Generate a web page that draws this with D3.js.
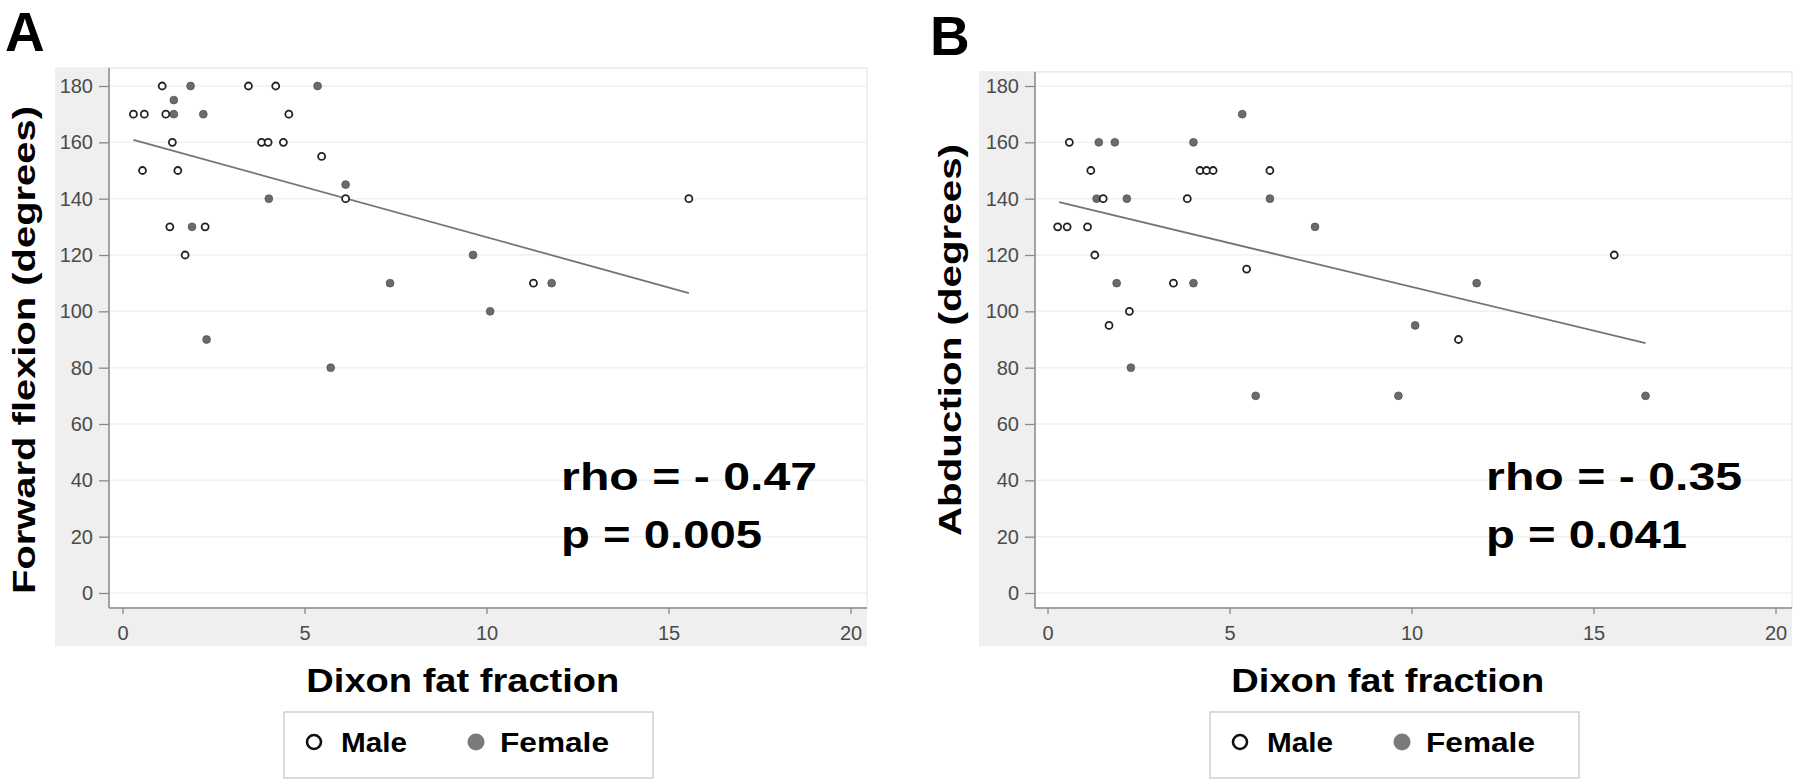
<!DOCTYPE html>
<html>
<head>
<meta charset="utf-8">
<script src="https://cdn.jsdelivr.net/npm/d3@7"></script>
<style>
  body { margin: 0; background: #fff; }
  svg text { font-family: "Liberation Sans", Arial, sans-serif; }
</style>
</head>
<body>
<div id="chart"></div>
<script>
// tick values
const xTicks = [0, 5, 10, 15, 20];
const yTicks = [0, 20, 40, 60, 80, 100, 120, 140, 160, 180];

// panel A : forward flexion vs Dixon fat fraction
const flexMale = [
  [0.30, 170], [0.60, 170], [0.55, 150], [1.09, 180], [1.19, 170], [1.37, 160],
  [1.52, 150], [1.30, 130], [2.27, 130], [1.72, 120], [3.46, 180], [4.21, 180],
  [4.57, 170], [3.82, 160], [4.00, 160], [4.42, 160], [5.47, 155], [6.13, 140],
  [11.29, 110], [15.56, 140]
];
const flexFemale = [
  [1.41, 175], [1.41, 170], [1.87, 180], [2.22, 170], [1.91, 130], [2.31, 90],
  [4.02, 140], [5.36, 180], [6.13, 145], [5.72, 80], [7.35, 110], [9.63, 120],
  [10.10, 100], [11.79, 110]
];
const flexFit = [[0.30, 160.9], [15.56, 106.5]];

// panel B : abduction vs Dixon fat fraction
const abdMale = [
  [0.28, 130], [0.54, 130], [0.60, 160], [1.10, 130], [1.19, 150], [1.30, 120],
  [1.53, 140], [1.69, 95], [2.25, 100], [3.46, 110], [3.84, 140], [4.19, 150],
  [4.37, 150], [4.55, 150], [5.47, 115], [6.11, 150], [11.29, 90], [15.57, 120]
];
const abdFemale = [
  [1.35, 140], [1.41, 160], [1.85, 160], [2.18, 140], [1.90, 110], [2.29, 80],
  [4.01, 160], [4.01, 110], [5.35, 170], [6.11, 140], [7.35, 130], [5.72, 70],
  [9.64, 70], [10.10, 95], [11.79, 110], [16.43, 70]
];
const abdFit = [[0.32, 138.8], [16.43, 88.7]];

const panels = [
  { tag: "A", ytitle: "Forward flexion (degrees)", male: flexMale, female: flexFemale, fit: flexFit,
    rho: "rho = - 0.47", p: "p = 0.005",
    left: 109, top: 68, right: 867, x0: 122.5, bgLeft: 55, bgTop: 67,
    tagX: 5, tagY: 51, ytX: 35, ytY: 350, ytLen: 488, legX: 284 },
  { tag: "B", ytitle: "Abduction (degrees)", male: abdMale, female: abdFemale, fit: abdFit,
    rho: "rho = - 0.35", p: "p = 0.041",
    left: 1035, top: 72, right: 1792, x0: 1047.5, bgLeft: 979, bgTop: 71,
    tagX: 930, tagY: 55, ytX: 961, ytY: 340, ytLen: 392, legX: 1210 }
];

const W = 1800, H = 784;
const bottom = 608;

const svg = d3.select("#chart")
  .append("svg")
  .attr("width", W)
  .attr("height", H);

panels.forEach(p => {
  const g = svg.append("g");

  const x = d3.scaleLinear().domain([0, 20]).range([p.x0, p.x0 + 728]);
  const y = d3.scaleLinear().domain([0, 180]).range([593, 86]);

  // grey graph region + white plot region
  g.append("rect")
    .attr("x", p.bgLeft).attr("y", p.bgTop)
    .attr("width", p.right - p.bgLeft).attr("height", 646 - p.bgTop)
    .attr("fill", "#efefef");
  g.append("rect")
    .attr("x", p.left).attr("y", p.top)
    .attr("width", p.right - p.left).attr("height", bottom - p.top)
    .attr("fill", "#fff")
    .attr("stroke", "#ececec")
    .attr("stroke-width", 1.5);

  // grid lines
  g.selectAll(".grid")
    .data(yTicks)
    .enter()
    .append("line")
    .attr("x1", p.left).attr("x2", p.right)
    .attr("y1", d => y(d)).attr("y2", d => y(d))
    .attr("stroke", "#f1f1f1")
    .attr("stroke-width", 1.5);

  // axes
  const yAxis = g.append("g")
    .attr("transform", `translate(${p.left},0)`)
    .call(d3.axisLeft(y).tickValues(yTicks).tickSize(10).tickPadding(6));
  const xAxis = g.append("g")
    .attr("transform", `translate(0,${bottom})`)
    .call(d3.axisBottom(x).tickValues(xTicks).tickSize(6).tickPadding(12));
  [yAxis, xAxis].forEach(a => {
    a.select(".domain").remove();
    a.selectAll("line").attr("stroke", "#8a8a8a").attr("stroke-width", 1.3);
    a.selectAll("text")
      .style("font-size", "20px")
      .attr("fill", "#4a4a4a");
  });
  g.append("line")
    .attr("x1", p.left).attr("x2", p.left)
    .attr("y1", p.top).attr("y2", bottom)
    .attr("stroke", "#8a8a8a").attr("stroke-width", 1.5);
  g.append("line")
    .attr("x1", p.left).attr("x2", p.right)
    .attr("y1", bottom).attr("y2", bottom)
    .attr("stroke", "#8a8a8a").attr("stroke-width", 1.5);

  // fitted line
  g.append("path")
    .datum(p.fit)
    .attr("d", d3.line().x(d => x(d[0])).y(d => y(d[1])))
    .attr("fill", "none")
    .attr("stroke", "#747474")
    .attr("stroke-width", 1.8);

  // points : female first, male drawn on top
  g.selectAll(".female")
    .data(p.female)
    .enter()
    .append("circle")
    .attr("cx", d => x(d[0]))
    .attr("cy", d => y(d[1]))
    .attr("r", 3.9)
    .attr("fill", "#6b6b6b")
    .attr("stroke", "#555")
    .attr("stroke-width", 0.8);
  g.selectAll(".male")
    .data(p.male)
    .enter()
    .append("circle")
    .attr("cx", d => x(d[0]))
    .attr("cy", d => y(d[1]))
    .attr("r", 3.5)
    .attr("fill", "#fff")
    .attr("stroke", "#222")
    .attr("stroke-width", 1.8);

  // stats
  g.append("text")
    .attr("x", x(12.05)).attr("y", 490)
    .attr("textLength", 256).attr("lengthAdjust", "spacingAndGlyphs")
    .style("font-size", "38px").style("font-weight", "bold")
    .text(p.rho);
  g.append("text")
    .attr("x", x(12.05)).attr("y", 548)
    .attr("textLength", 201).attr("lengthAdjust", "spacingAndGlyphs")
    .style("font-size", "38px").style("font-weight", "bold")
    .text(p.p);

  // titles
  g.append("text")
    .attr("x", p.tagX).attr("y", p.tagY)
    .style("font-size", "55px").style("font-weight", "bold")
    .text(p.tag);
  g.append("text")
    .attr("transform", `translate(${p.ytX},${p.ytY}) rotate(-90)`)
    .attr("text-anchor", "middle")
    .attr("textLength", p.ytLen).attr("lengthAdjust", "spacingAndGlyphs")
    .style("font-size", "31px").style("font-weight", "bold")
    .text(p.ytitle);
  g.append("text")
    .attr("x", x(9.35)).attr("y", 692)
    .attr("text-anchor", "middle")
    .attr("textLength", 313).attr("lengthAdjust", "spacingAndGlyphs")
    .style("font-size", "34px").style("font-weight", "bold")
    .text("Dixon fat fraction");

  // legend
  const leg = g.append("g").attr("transform", `translate(${p.legX},712)`);
  leg.append("rect")
    .attr("width", 369).attr("height", 66)
    .attr("fill", "#fff")
    .attr("stroke", "#cfcfcf")
    .attr("stroke-width", 1.5);
  leg.append("circle")
    .attr("cx", 30).attr("cy", 30).attr("r", 7)
    .attr("fill", "#fff").attr("stroke", "#111").attr("stroke-width", 2.6);
  leg.append("text")
    .attr("x", 57).attr("y", 40)
    .attr("textLength", 66).attr("lengthAdjust", "spacingAndGlyphs")
    .style("font-size", "28px").style("font-weight", "bold")
    .text("Male");
  leg.append("circle")
    .attr("cx", 192).attr("cy", 30).attr("r", 8.5)
    .attr("fill", "#7a7a7a");
  leg.append("text")
    .attr("x", 216).attr("y", 40)
    .attr("textLength", 109).attr("lengthAdjust", "spacingAndGlyphs")
    .style("font-size", "28px").style("font-weight", "bold")
    .text("Female");
});
</script>
</body>
</html>
